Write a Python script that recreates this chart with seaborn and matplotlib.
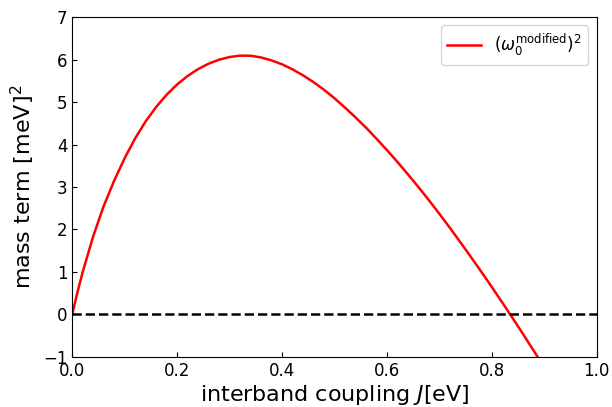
import numpy as np
import pandas as pd
import matplotlib
matplotlib.use("Agg")
import matplotlib.pyplot as plt
import seaborn as sns

# values (smoothed by eye)
coupling_J = [0.00, 0.01, 0.02, 0.04, 0.06, 0.08, 0.10, 0.12, 0.14, 0.16,
              0.18, 0.20, 0.22, 0.24, 0.26, 0.28, 0.30, 0.32, 0.34, 0.36,
              0.38, 0.40, 0.42, 0.44, 0.46, 0.48, 0.50, 0.52, 0.54, 0.56,
              0.58, 0.60, 0.62, 0.64, 0.66, 0.68, 0.70, 0.72, 0.74, 0.76,
              0.78, 0.80, 0.82, 0.84, 0.86, 0.88, 0.90]
mass_term = [0.000, 0.525, 1.000, 1.840, 2.550, 3.150, 3.680, 4.145, 4.545, 4.885,
             5.172, 5.414, 5.614, 5.776, 5.903, 5.997, 6.060, 6.093, 6.090, 6.050,
             5.980, 5.890, 5.770, 5.630, 5.470, 5.290, 5.090, 4.870, 4.640, 4.400,
             4.140, 3.870, 3.590, 3.300, 3.000, 2.690, 2.370, 2.040, 1.700, 1.355,
             1.005, 0.647, 0.280, -0.092, -0.470, -0.856, -1.248]
series_label = r'$(\omega_0^{\mathrm{modified}})^2$'

df = pd.DataFrame({"J": coupling_J, "m": mass_term})

fig = plt.figure(figsize=(6.12, 4.07), dpi=100)
ax = fig.add_axes([0.118, 0.123, 0.857, 0.835])

sns.lineplot(data=df, x="J", y="m", color="red", linewidth=1.8,
             label=series_label, estimator=None, ax=ax)
ax.axhline(0, color="black", linestyle="--", linewidth=1.8)

ax.set_xlim(0, 1)
ax.set_ylim(-1, 7)
ax.set_xticks([0.0, 0.2, 0.4, 0.6, 0.8, 1.0])
ax.set_yticks(range(-1, 8))
ax.tick_params(direction="in", labelsize=12)
ax.set_xlabel("interband coupling $J$[eV]", fontsize=16, labelpad=2)
ax.set_ylabel("mass term [meV]$^2$", fontsize=16, labelpad=4)
ax.legend(loc="upper right", fontsize=12)

fig.savefig("out.png", dpi=100)
